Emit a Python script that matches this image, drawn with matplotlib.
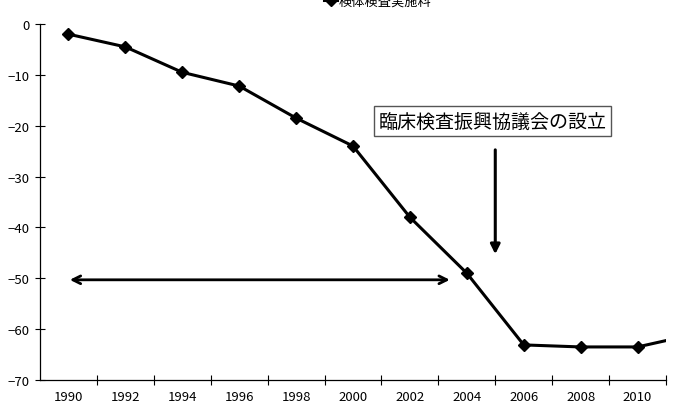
import matplotlib
matplotlib.use('Agg')
import matplotlib.pyplot as plt

plt.rcParams['font.family'] = ['Noto Sans CJK JP', 'DejaVu Sans']

# 検体検査実施料の推移 (%)
years = [1990, 1992, 1994, 1996, 1998, 2000, 2002, 2004, 2006, 2008, 2010, 2012]
values = [-2.0, -4.5, -9.5, -12.2, -18.5, -24.0, -38.0, -49.0, -63.1, -63.5, -63.5, -61.0]
tick_labels = ['1990', '1992', '1994', '1996', '1998', '2000', '2002',
               '2004', '2006', '2008', '2010']
series_name = '検体検査実施料'
note = '臨床検査振興協議会の設立'

fig = plt.figure(figsize=(6.78, 4.06), dpi=100)
ax = fig.add_axes([40 / 678, 1 - 381 / 406, 626 / 678, 356 / 406])

line, = ax.plot(years, values, color='black', lw=2.2, marker='D', ms=6,
                label=series_name)

ax.set_xlim(1989, 2011)
ax.set_ylim(-70, 0)
ax.set_yticks(range(-70, 1, 10))
ax.set_xticks([int(t) for t in tick_labels])
ax.set_xticklabels(tick_labels)
ax.set_xticks(range(1991, 2012, 2), minor=True)
ax.tick_params(axis='x', which='major', length=0, pad=7, labelsize=9.5)
ax.tick_params(axis='x', which='minor', direction='inout', length=7, width=0.8)
ax.tick_params(axis='y', direction='inout', length=7, width=0.8, labelsize=9.5,
               pad=4)
for s in ['top', 'right']:
    ax.spines[s].set_visible(False)
for s in ['left', 'bottom']:
    ax.spines[s].set_linewidth(0.9)

# annotation box
ax.text(2004.9, -19.1, note, fontsize=13.7, ha='center', va='center',
        bbox=dict(boxstyle='square,pad=0.25', fc='white', ec='#555555', lw=1))
ax.annotate('', xy=(2005.0, -45.8), xytext=(2005.0, -24.2),
            arrowprops=dict(arrowstyle='-|>', color='black', lw=2.2,
                            mutation_scale=14))
ax.annotate('', xy=(1989.95, -50.3), xytext=(2003.5, -50.3),
            arrowprops=dict(arrowstyle='<->', color='black', lw=2,
                            mutation_scale=14))

fig.legend(handles=[line], loc='center', bbox_to_anchor=(0.557, 0.995),
           frameon=False, fontsize=9.5, handlelength=1.0, handletextpad=0.1)

fig.savefig('out.png', dpi=100)
